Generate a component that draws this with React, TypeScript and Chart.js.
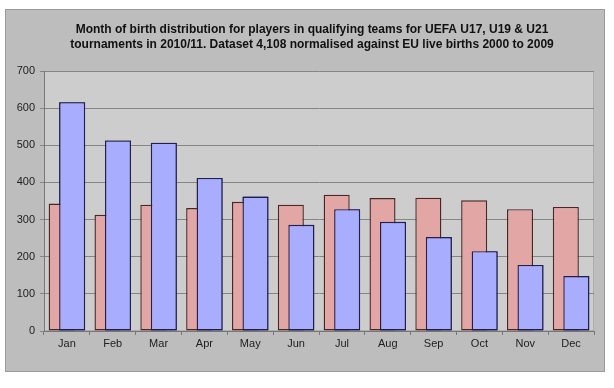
import React, { useEffect, useRef } from 'react';
import { Chart, registerables } from 'chart.js';

Chart.register(...registerables);

const months = ['Jan', 'Feb', 'Mar', 'Apr', 'May', 'Jun', 'Jul', 'Aug', 'Sep', 'Oct', 'Nov', 'Dec'];
const euLiveBirths = [343, 313, 340, 331, 348, 340, 367, 358, 359, 352, 328, 334];
const players = [616, 513, 507, 412, 362, 286, 328, 294, 253, 215, 178, 148];
const yMin = 0;
const yMax = 700;
const yStep = 100;
const titleLines = [
  'Month of birth distribution for players in qualifying teams for UEFA U17, U19 & U21',
  'tournaments in 2010/11. Dataset 4,108 normalised against EU live births 2000 to 2009',
];

const FONT = '"Liberation Sans", Arial, Helvetica, sans-serif';

const framePlugin = {
  id: 'frame',
  beforeDraw(chart: any) {
    const { ctx, chartArea: a } = chart;
    ctx.save();
    ctx.fillStyle = '#ffffff';
    ctx.fillRect(0, 0, chart.width, chart.height);
    ctx.fillStyle = '#bdbdbd';
    ctx.fillRect(5, 9, 600, 363);
    ctx.strokeStyle = '#9a9a9a';
    ctx.lineWidth = 1;
    ctx.strokeRect(5.5, 9.5, 599, 362);
    ctx.fillStyle = '#cdcdcd';
    ctx.fillRect(a.left, a.top, a.right - a.left, a.bottom - a.top);
    ctx.strokeStyle = '#adadad';
    ctx.strokeRect(a.left + 0.5, a.top + 0.5, a.right - a.left - 1, a.bottom - a.top - 1);
    ctx.font = `bold 12px ${FONT}`;
    ctx.fillStyle = '#111111';
    ctx.textAlign = 'center';
    ctx.textBaseline = 'middle';
    titleLines.forEach((line, i) => ctx.fillText(line, 312, 30 + i * 14.5));
    ctx.restore();
  },
  afterDatasetsDraw(chart: any) {
    // draw the second series above the first, as in the reference
    const meta = chart.getDatasetMeta(1);
    if (meta && meta.controller) meta.controller.draw();
  },
};

export default function App() {
  const ref = useRef<HTMLCanvasElement | null>(null);

  useEffect(() => {
    if (!ref.current) return;
    const chart = new Chart(ref.current, {
      type: 'bar',
      data: {
        labels: months,
        datasets: [
          {
            label: 'EU live births (normalised)',
            data: euLiveBirths,
            backgroundColor: '#e2a7a5',
            borderColor: '#4a2626',
            borderWidth: 1.4,
            borderSkipped: false,
            categoryPercentage: 0.458,
            barPercentage: 2.48,
          },
          {
            label: 'Players',
            data: players,
            backgroundColor: '#a9adfd',
            borderColor: '#1f2050',
            borderWidth: 1.4,
            borderSkipped: false,
            categoryPercentage: 0.458,
            barPercentage: 2.48,
          },
        ],
      },
      options: {
        responsive: false,
        animation: false,
        layout: { padding: { top: 71, left: 5, right: 20, bottom: 0 } },
        plugins: {
          legend: { display: false },
          title: { display: false },
          tooltip: { enabled: false },
        },
        scales: {
          x: {
            offset: true,
            grid: {
              offset: true,
              drawOnChartArea: false,
              drawTicks: true,
              tickLength: 4,
              color: '#777777',
            },
            border: { display: true, color: '#777777' },
            ticks: { color: '#222222', font: { size: 11, family: FONT }, padding: 2 },
            afterFit(s: any) {
              s.height = 57;
            },
          },
          y: {
            min: yMin,
            max: yMax,
            ticks: { stepSize: yStep, color: '#222222', font: { size: 11, family: FONT }, padding: 5 },
            grid: { color: '#858585', tickLength: 4 },
            border: { display: true, color: '#777777' },
            afterFit(s: any) {
              s.width = 39;
            },
          },
        },
      },
      plugins: [framePlugin],
    });
    return () => chart.destroy();
  }, []);

  return (
    <div style={{ position: 'fixed', left: 0, top: 0, width: 614, height: 388 }}>
      <canvas ref={ref} width={614} height={388} style={{ display: 'block' }} />
    </div>
  );
}
